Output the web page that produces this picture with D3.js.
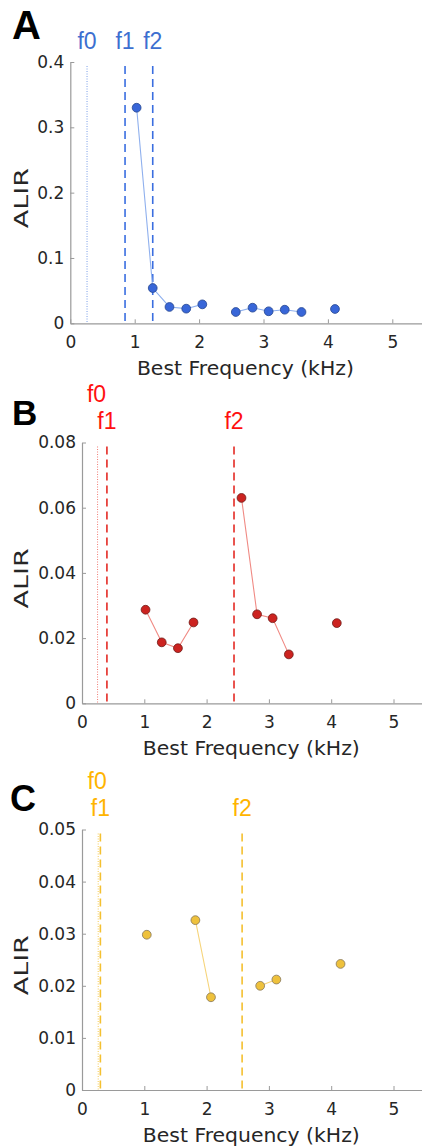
<!DOCTYPE html>
<html>
<head>
<meta charset="utf-8">
<script src="https://cdn.jsdelivr.net/npm/d3@7"></script>
<style>
  html, body { margin: 0; padding: 0; background: #fff; }
  svg { display: block; }
</style>
</head>
<body>
<svg id="fig" width="422" height="1147"></svg>
<script>
// ---- data: ALIR per best-frequency channel (null = no unit in that channel) ----
const bestFreqA = [1.03, 1.28, 1.54, 1.80, 2.05, 2.31, 2.57, 2.83, 3.08, 3.33, 3.59, 3.85, 4.11];
const alirA     = [0.330, 0.054, 0.025, 0.0224, 0.029, null, 0.0173, 0.0239, 0.0184, 0.0208, 0.0173, null, 0.0219];

const bestFreqB = [1.02, 1.28, 1.54, 1.79, 2.05, 2.31, 2.56, 2.81, 3.06, 3.32, 3.58, 3.84, 4.09];
const alirB     = [0.0287, 0.0187, 0.0169, 0.0248, null, null, 0.063, 0.0273, 0.0261, 0.0150, null, null, 0.0246];

const bestFreqC = [1.04, 1.30, 1.56, 1.82, 2.07, 2.33, 2.59, 2.86, 3.12, 3.37, 3.63, 3.89, 4.15];
const alirC     = [0.0298, null, null, 0.0326, 0.0178, null, null, 0.0200, 0.0212, null, null, null, 0.0242];

// stimulus frequencies (kHz)
const refNames = ["f0", "f1", "f2"];
const refFreqA = [0.26, 0.85, 1.28];
const refFreqB = [0.25, 0.40, 2.44];
const refFreqC = [0.26, 0.295, 2.57];

// axis ticks
const xTicks  = [0, 1, 2, 3, 4, 5];
const yTicksA = [0, 0.1, 0.2, 0.3, 0.4];
const yTicksB = [0, 0.02, 0.04, 0.06, 0.08];
const yTicksC = [0, 0.01, 0.02, 0.03, 0.04, 0.05];

// ---- layout & style ----
const panels = [
  { letter: "A", freq: bestFreqA, alir: alirA, refs: refFreqA, yTicks: yTicksA, yFmt: d3.format(".1~f"),
    yMax: 0.4, left: 70.3, kPx: 64.4, top: 62, bottom: 323.3, letterY: 39, letterX: 12, letterSize: 40,
    fill: "#3866d8", edge: "#26468f", line: "#8fb0ee", refCol: "#3a6ee0", dotCol: "#7a9ee8", labCol: "#3d6fd0" },
  { letter: "B", freq: bestFreqB, alir: alirB, refs: refFreqB, yTicks: yTicksB, yFmt: d3.format(".2~f"),
    yMax: 0.08, left: 82, kPx: 62.3, top: 442.5, bottom: 703.3, letterY: 425, letterX: 12, letterSize: 35,
    fill: "#cc2320", edge: "#6e1a16", line: "#f08a84", refCol: "#e42a24", dotCol: "#f07a74", labCol: "#ff1010" },
  { letter: "C", freq: bestFreqC, alir: alirC, refs: refFreqC, yTicks: yTicksC, yFmt: d3.format(".2~f"),
    yMax: 0.05, left: 82, kPx: 62.3, top: 829.5, bottom: 1090, letterY: 811, letterX: 10, letterSize: 36,
    fill: "#eec13c", edge: "#85765a", line: "#f6d47a", refCol: "#f4c030", dotCol: "#f6cc55", labCol: "#ffb400" }
];

const svg = d3.select("#fig");
const axisCol = "#9a9a9a";
const tickFont = "'DejaVu Sans', sans-serif";

panels.forEach(p => {
  const g = svg.append("g");
  const x = d3.scaleLinear().domain([0, 5.5]).range([p.left, p.left + 5.5 * p.kPx]);
  const y = d3.scaleLinear().domain([0, p.yMax]).range([p.bottom, p.top]);

  // x axis (ticks pointing inward)
  const xAx = g.append("g").attr("transform", `translate(0,${p.bottom})`)
    .call(d3.axisBottom(x).tickValues(xTicks).tickFormat(d3.format("d")).tickSizeInner(-4).tickSizeOuter(0).tickPadding(8));
  xAx.select(".domain").attr("stroke", axisCol).attr("stroke-width", 1.2);
  xAx.selectAll(".tick line").attr("stroke", axisCol);
  xAx.selectAll(".tick text").attr("font-family", tickFont).attr("font-size", 17)
    .attr("fill", "#262626").attr("y", 13).attr("dy", "0.71em");

  // y axis
  const yAx = g.append("g").attr("transform", `translate(${p.left},0)`)
    .call(d3.axisLeft(y).tickValues(p.yTicks).tickFormat(p.yFmt).tickSizeInner(-4).tickSizeOuter(0).tickPadding(6));
  yAx.select(".domain").attr("stroke", axisCol).attr("stroke-width", 1.2);
  yAx.selectAll(".tick line").attr("stroke", axisCol);
  yAx.selectAll(".tick text").attr("font-family", tickFont).attr("font-size", 17)
    .attr("fill", "#262626").attr("x", -6);

  // axis titles
  g.append("text")
    .attr("x", x(0) + 0.5 * (x(5.5) - x(0)) - 2).attr("y", p.bottom + 51.5)
    .attr("text-anchor", "middle").attr("font-family", tickFont).attr("font-size", 19)
    .attr("textLength", 217).attr("lengthAdjust", "spacingAndGlyphs")
    .attr("fill", "#262626").text("Best Frequency (kHz)");
  g.append("text")
    .attr("transform", `translate(28,${(p.top + p.bottom) / 2 + 5.5}) rotate(-90)`)
    .attr("text-anchor", "middle").attr("font-family", tickFont).attr("font-size", 20)
    .attr("textLength", 60).attr("lengthAdjust", "spacingAndGlyphs")
    .attr("fill", "#262626").text("ALIR");

  // panel letter
  g.append("text").attr("x", p.letterX).attr("y", p.letterY)
    .attr("font-family", "'Liberation Sans', Arial, sans-serif").attr("font-weight", "bold")
    .attr("font-size", p.letterSize).attr("fill", "#000").text(p.letter);

  // stimulus frequency markers: f0 dotted, f1/f2 dashed
  const dashes = ["1,1.5", "8,5", "8,5"];
  p.refs.forEach((f, i) => {
    g.append("line")
      .attr("x1", x(f)).attr("x2", x(f)).attr("y1", p.top + 4).attr("y2", p.bottom)
      .attr("stroke", i === 0 ? p.dotCol : p.refCol).attr("stroke-width", i === 0 ? 1 : 1.6)
      .attr("stroke-dasharray", dashes[i]);
    // raise a label when it would collide with the next one
    const next = p.refs[i + 1];
    const raised = next !== undefined && Math.abs(x(next) - x(f)) < 20;
    g.append("text")
      .attr("x", x(f) + (raised ? -1 : 0)).attr("y", p.top - 13.5 - (raised ? 27 : 0))
      .attr("text-anchor", "middle").attr("font-family", "'Liberation Sans', Arial, sans-serif")
      .attr("font-size", 23).attr("fill", p.labCol).text(refNames[i]);
  });

  // data
  const pts = p.freq.map((f, i) => ({ f, v: p.alir[i] }));
  const line = d3.line().defined(d => d.v !== null).x(d => x(d.f)).y(d => y(d.v));
  g.append("path").datum(pts).attr("d", line)
    .attr("fill", "none").attr("stroke", p.line).attr("stroke-width", 1.1);
  g.selectAll("circle.pt").data(pts.filter(d => d.v !== null)).join("circle")
    .attr("class", "pt").attr("cx", d => x(d.f)).attr("cy", d => y(d.v)).attr("r", 4.4)
    .attr("fill", p.fill).attr("stroke", p.edge).attr("stroke-width", 0.8);
});
</script>
</body>
</html>
